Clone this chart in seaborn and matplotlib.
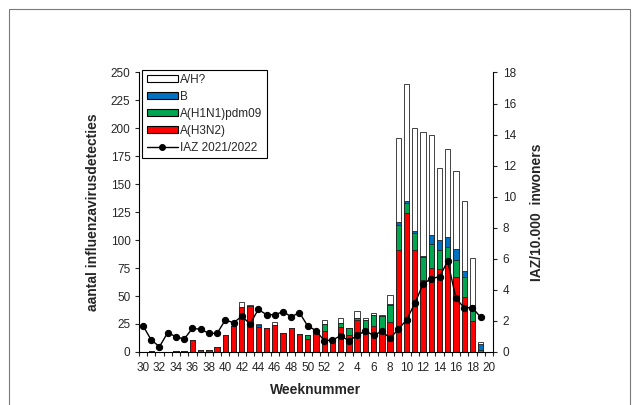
import numpy as np
import pandas as pd
import matplotlib
matplotlib.use("Agg")
import matplotlib.pyplot as plt
import seaborn as sns
from matplotlib.patches import Patch, Rectangle
from matplotlib.lines import Line2D

# weeknummers seizoen 2021/2022
weeks = list(range(30, 53)) + list(range(1, 21))

h3n2 = [0, 1, 0, 0, 1, 1, 11, 2, 2, 4, 15, 23, 40, 41, 22, 21, 24, 17, 21, 16, 12, 17, 19,
        11, 22, 15, 29, 18, 23, 20, 27, 91, 124, 91, 64, 75, 74, 82, 67, 49, 28, 0, 0]
h1n1 = [0, 0, 0, 0, 0, 0, 0, 0, 0, 0, 0, 0, 0, 0, 0, 0, 0, 0, 0, 0, 3, 3, 6,
        0, 4, 6, 1, 11, 10, 12, 15, 23, 9, 15, 21, 22, 17, 12, 15, 18, 10, 2, 0]
infl_b = [0, 0, 0, 0, 0, 0, 0, 0, 0, 0, 0, 0, 0, 0, 2, 0, 0, 0, 0, 0, 0, 0, 0,
          0, 0, 0, 0, 0, 0, 0, 1, 2, 2, 2, 1, 8, 9, 9, 10, 5, 4, 5, 0]
a_unk = [0, 0, 0, 0, 0, 0, 0, 0, 0, 0, 0, 0, 5, 1, 1, 0, 3, 0, 0, 0, 0, 0, 4,
         1, 4, 0, 7, 1, 2, 1, 8, 75, 105, 92, 111, 89, 65, 79, 70, 63, 42, 2, 0]
iaz = [1.69, 0.77, 0.34, 1.24, 0.98, 0.83, 1.52, 1.46, 1.2, 1.2, 2.06, 1.88, 2.3, 1.8, 2.74,
       2.4, 2.4, 2.59, 2.27, 2.53, 1.67, 1.38, 0.72, 0.77, 1.04, 0.72, 1.06, 1.36, 1.06, 1.34,
       0.88, 1.46, 2.06, 3.13, 4.37, 4.73, 4.84, 5.85, 3.45, 2.85, 2.85, 2.23, np.nan]

df = pd.DataFrame({"pos": np.arange(len(weeks)), "week": weeks, "H3N2": h3n2,
                   "H1N1": h1n1, "B": infl_b, "AH": a_unk, "IAZ": iaz})
df["c1"] = df["H3N2"]
df["c2"] = df["c1"] + df["H1N1"]
df["c3"] = df["c2"] + df["B"]
df["c4"] = df["c3"] + df["AH"]

sns.set_style("ticks")
plt.rcParams["font.family"] = ["Liberation Sans", "DejaVu Sans"]

fig = plt.figure(figsize=(6.37, 4.05), dpi=100)
ax = fig.add_axes([0.218, 0.131, 0.556, 0.69])

kleuren = {"c4": "white", "c3": "#0070C0", "c2": "#00A650", "c1": "#FF0000"}
for col in ["c4", "c3", "c2", "c1"]:
    sns.barplot(data=df, x="pos", y=col, color=kleuren[col], saturation=1,
                edgecolor="#222222", linewidth=0.6, width=0.65, ax=ax)

ax.set_xlim(-0.5, len(weeks) - 0.5)
ax.set_ylim(0, 250)
ax.set_yticks(np.arange(0, 251, 25))
ax.set_xticks(np.arange(len(weeks) + 1) - 0.5)
ax.set_xticklabels([])
ax.set_xticks(np.arange(0, len(weeks), 2), minor=True)
ax.set_xticklabels([str(w) for w in weeks[::2]], minor=True)
ax.tick_params(axis="x", which="major", length=3, width=0.8, direction="out")
ax.tick_params(axis="x", which="minor", length=0, pad=7, labelsize=8.5)
ax.tick_params(axis="y", length=3, width=0.8, labelsize=8.5, pad=3)
ax.set_xlabel("Weeknummer", fontsize=10, fontweight="bold", labelpad=7)
ax.set_ylabel("aantal influenzavirusdetecties", fontsize=10, fontweight="bold", labelpad=8)
ax.spines["top"].set_visible(False)
ax.spines["right"].set_visible(False)
for s in ["left", "bottom"]:
    ax.spines[s].set_linewidth(0.8)
    ax.spines[s].set_color("black")

ax2 = ax.twinx()
sns.lineplot(data=df, x="pos", y="IAZ", color="black", marker="o", markersize=4.5,
             markeredgecolor="black", linewidth=1, ax=ax2)
ax2.set_ylim(0, 18)
ax2.set_yticks(np.arange(0, 19, 2))
ax2.tick_params(axis="y", length=3, width=0.8, labelsize=8.5, pad=4)
ax2.set_ylabel("IAZ/10.000  inwoners", fontsize=10, fontweight="bold", labelpad=10)
ax2.spines["top"].set_visible(False)
ax2.spines["left"].set_visible(False)
ax2.spines["bottom"].set_visible(False)
ax2.spines["right"].set_linewidth(0.8)
ax2.spines["right"].set_color("black")
ax2.set_xlim(-0.5, len(weeks) - 0.5)

handles = [Patch(facecolor="white", edgecolor="black", linewidth=0.8, label="A/H?"),
           Patch(facecolor="#0070C0", edgecolor="black", linewidth=0.8, label="B"),
           Patch(facecolor="#00A650", edgecolor="black", linewidth=0.8, label="A(H1N1)pdm09"),
           Patch(facecolor="#FF0000", edgecolor="black", linewidth=0.8, label="A(H3N2)"),
           Line2D([], [], color="black", marker="o", markersize=4, linewidth=1,
                  label="IAZ 2021/2022")]
leg = ax2.legend(handles=handles, loc="upper left", bbox_to_anchor=(0.01, 1.01),
                 borderaxespad=0, fontsize=8.5, handlelength=2.7, handleheight=0.5,
                 handletextpad=0.15, labelspacing=0.42, borderpad=0.35,
                 frameon=True, fancybox=False, framealpha=1)
leg.get_frame().set_edgecolor("black")
leg.get_frame().set_linewidth(0.8)

fig.patches.append(Rectangle((9 / 637, -0.1), 621 / 637, 1.078, transform=fig.transFigure,
                             fill=False, edgecolor="#7a7a7a", linewidth=0.8))

fig.savefig("out.png", dpi=100)
